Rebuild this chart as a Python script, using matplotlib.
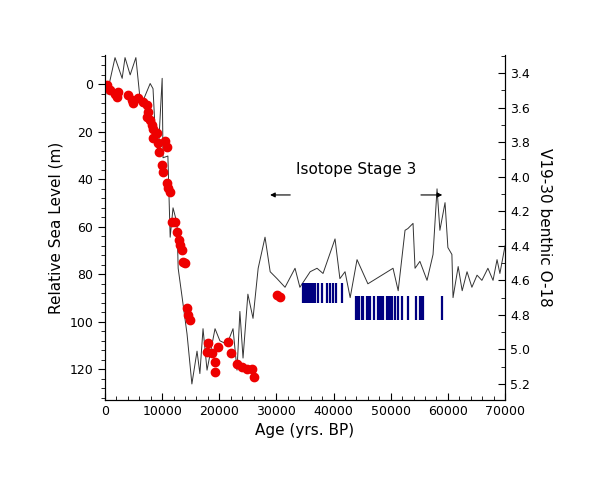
import matplotlib
matplotlib.use("Agg")
import matplotlib.pyplot as plt
from matplotlib.ticker import MultipleLocator

# benthic O-18 record (age in years BP, per mil)
isoAge = [350, 1750, 3000, 3500, 4400, 5400, 6100, 6650, 7900, 8400, 8750, 9300, 10000, 10150,
          11000, 11400, 11900, 12600, 12800, 13500, 14350, 15200, 16100, 16600, 17150, 17850,
          19250, 20100, 21350, 22400, 23100, 23600, 24150, 25000, 25900, 26800, 28000, 28900,
          30100, 31500, 33250, 34100, 35900, 37100, 38150, 40250, 41100, 42000, 42900, 44100,
          46000, 50400, 51300, 52500, 53000, 53900, 54250, 55100, 56350, 57400, 58100, 58600,
          59500, 60000, 60700, 60900, 61800, 62500, 63350, 64200, 65100, 65950, 67000, 67900,
          68600, 69100, 70000]
isoO18 = [3.52, 3.31, 3.43, 3.31, 3.41, 3.31, 3.54, 3.56, 3.46, 3.49, 3.72, 3.87, 3.43, 3.89,
          3.88, 4.35, 4.18, 4.27, 4.53, 4.70, 4.91, 5.20, 5.01, 5.14, 4.88, 5.12,
          4.88, 4.95, 4.97, 4.88, 5.12, 4.78, 5.05, 4.68, 4.82, 4.53, 4.35, 4.55,
          4.59, 4.64, 4.53, 4.64, 4.55, 4.53, 4.56, 4.36, 4.59, 4.55, 4.70, 4.48,
          4.62, 4.53, 4.66, 4.31, 4.30, 4.27, 4.53, 4.49, 4.60, 4.45, 4.07, 4.31,
          4.15, 4.41, 4.45, 4.70, 4.52, 4.66, 4.55, 4.64, 4.57, 4.60, 4.53, 4.60,
          4.48, 4.56, 4.40]

# sea level points
slAge = [350, 900, 1750, 2300, 2100, 4000, 4700, 4900, 5800, 6650, 7350, 7500, 7350, 7900,
         8200, 8400, 8400, 9100, 9300, 9450, 10500, 10850, 10000, 10150, 10850, 11000, 11400,
         11700, 12250, 12600, 12950, 13100, 13500, 13650, 14000, 14350, 14500, 14900,
         18000, 17850, 18700, 19250, 19800, 19250, 21500, 22050, 23100, 24000, 24850,
         25700, 26100, 30100, 30600]
slLevel = [0.4, 2.5, 4, 3.4, 5.5, 4.6, 6.7, 8, 5.9, 7.6, 8.8, 11.8, 13.9, 15,
           17, 19, 22.7, 20.6, 24.8, 28.6, 24, 26.5, 34, 37, 41.6, 43.7, 45.4,
           58, 58, 62, 65.5, 67.6, 69.7, 74.8, 75.2, 94, 97, 99,
           109, 112.6, 113, 116.8, 110.5, 121, 108.4, 113, 117.6, 118.9, 120,
           120, 123, 88.7, 89.5]

# stage 3 bars
upperAge = [34700, 35000, 35300, 35600, 35900, 36200, 36500, 36750, 37300, 37900, 38800,
            39400, 39950, 40500, 41400]
lowerAge = [43900, 44150, 44500, 44900, 45200, 45800, 46100, 46400, 47100, 47700, 47900,
            48100, 48400, 48700, 49300, 49600, 49900, 50200, 50750, 51300, 51900, 53100,
            54500, 55100, 55400, 55700, 59000]

fig = plt.figure(figsize=(5.9, 4.8), dpi=100)
ax = fig.add_axes([0.178, 0.167, 0.678, 0.718])
ax2 = ax.twinx()

ax2.plot(isoAge, isoO18, color='#333333', lw=0.7)
ax2.set_ylim(5.292, 3.296)

ax.vlines(upperAge, 83.5, 92, color='#000080', lw=1.6)
ax.vlines(lowerAge, 89, 99, color='#000080', lw=1.6)
ax.plot(slAge, slLevel, 'o', color='#ee0000', ms=6, mec='#ee0000')
ax.set_ylim(132.8, -12.2)
ax.set_xlim(0, 70000)
ax.set_zorder(ax2.get_zorder() + 1)
ax.patch.set_visible(False)

ax.annotate('', xy=(28400, 46.6), xytext=(32900, 46.6),
            arrowprops=dict(arrowstyle='-|>', color='black', lw=0.8, mutation_scale=7))
ax.annotate('', xy=(59500, 46.6), xytext=(54800, 46.6),
            arrowprops=dict(arrowstyle='-|>', color='black', lw=0.8, mutation_scale=7))
ax.text(43900, 36, 'Isotope Stage 3', ha='center', va='center', fontsize=11)

for a in (ax, ax2):
    a.spines['top'].set_visible(False)
ax.xaxis.set_major_locator(MultipleLocator(10000))
ax.xaxis.set_minor_locator(MultipleLocator(2000))
ax.yaxis.set_major_locator(MultipleLocator(20))
ax.yaxis.set_minor_locator(MultipleLocator(4))
ax2.yaxis.set_major_locator(MultipleLocator(0.2))
ax2.yaxis.set_minor_locator(MultipleLocator(0.1))
ax.tick_params(axis='x', which='both', direction='in')
ax.tick_params(axis='y', which='both', direction='out')
ax2.tick_params(axis='y', which='both', direction='in')
ax.tick_params(which='major', length=5, labelsize=9)
ax.tick_params(which='minor', length=3)
ax2.tick_params(which='major', length=5, labelsize=9)
ax2.tick_params(which='minor', length=3)
ax2.yaxis.set_major_formatter(plt.FuncFormatter(lambda v, p: f'{v:.1f}'))

ax.set_xlabel('Age (yrs. BP)', fontsize=11)
ax.set_ylabel('Relative Sea Level (m)', fontsize=11)
ax2.set_ylabel('V19-30 benthic O-18', fontsize=11, rotation=270, labelpad=16)

fig.savefig('out.png', dpi=100)
